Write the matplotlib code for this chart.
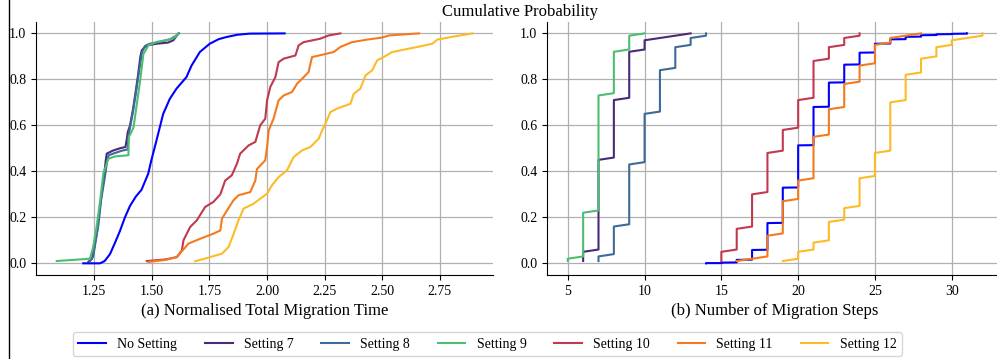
import numpy as np
import matplotlib
matplotlib.use("Agg")
import matplotlib.pyplot as plt
from matplotlib.lines import Line2D

plt.rcParams['font.family'] = ['Liberation Serif', 'DejaVu Serif']
plt.rcParams['mathtext.fontset'] = 'stix'

LABELS = ["No Setting", "Setting 7", "Setting 8", "Setting 9",
          "Setting 10", "Setting 11", "Setting 12"]
COLORS = ["#0000ff", "#4a2a78", "#3e6a98", "#4cbe72",
          "#c0394f", "#f47a1e", "#fcbb27"]

# (a) normalised total migration time: sorted value vs cumulative probability
time_x = {
    "No Setting": [1.202, 1.275, 1.295, 1.318, 1.340, 1.361, 1.383, 1.405, 1.430, 1.455, 1.484, 1.498,
                   1.520, 1.549, 1.578, 1.607, 1.650, 1.672, 1.708, 1.751, 1.790, 1.823, 1.870, 1.924, 2.076],
    "Setting 7": [1.224, 1.240, 1.250, 1.262, 1.275, 1.290, 1.300, 1.304, 1.330, 1.360, 1.385, 1.391, 1.395,
                  1.405, 1.418, 1.430, 1.440, 1.450, 1.456, 1.468, 1.480, 1.520, 1.570, 1.593, 1.615],
    "Setting 8": [1.232, 1.245, 1.255, 1.268, 1.280, 1.295, 1.305, 1.312, 1.340, 1.370, 1.394, 1.398, 1.405,
                  1.418, 1.432, 1.445, 1.458, 1.470, 1.490, 1.530, 1.580, 1.605, 1.618],
    "Setting 9": [1.087, 1.231, 1.245, 1.260, 1.275, 1.289, 1.311, 1.340, 1.398, 1.400, 1.420, 1.434, 1.449,
                  1.463, 1.485, 1.520, 1.560, 1.593, 1.615],
    "Setting 10": [1.478, 1.560, 1.608, 1.630, 1.637, 1.666, 1.695, 1.731, 1.767, 1.797, 1.818, 1.847, 1.869,
                   1.883, 1.920, 1.949, 1.970, 1.992, 2.000, 2.014, 2.036, 2.050, 2.072, 2.123, 2.137, 2.159,
                   2.231, 2.267, 2.318],
    "Setting 11": [1.485, 1.560, 1.608, 1.659, 1.710, 1.767, 1.797, 1.804, 1.826, 1.854, 1.876, 1.927, 1.949,
                   1.956, 1.992, 2.000, 2.007, 2.028, 2.050, 2.072, 2.108, 2.130, 2.159, 2.180, 2.195, 2.260,
                   2.289, 2.318, 2.369, 2.434, 2.500, 2.528, 2.659],
    "Setting 12": [1.688, 1.753, 1.804, 1.833, 1.855, 1.876, 1.898, 1.941, 1.970, 2.000, 2.021, 2.050, 2.086,
                   2.115, 2.152, 2.188, 2.224, 2.239, 2.253, 2.275, 2.304, 2.362, 2.376, 2.405, 2.427, 2.456,
                   2.478, 2.506, 2.543, 2.652, 2.717, 2.739, 2.797, 2.891],
}
time_y = {
    "No Setting": [0.0, 0.0, 0.01, 0.04, 0.09, 0.14, 0.20, 0.25, 0.29, 0.32, 0.39, 0.45,
                   0.535, 0.65, 0.716, 0.76, 0.81, 0.86, 0.919, 0.955, 0.975, 0.984, 0.994, 0.999, 1.0],
    "Setting 7": [0.006, 0.02, 0.07, 0.14, 0.25, 0.36, 0.45, 0.477, 0.49, 0.50, 0.506, 0.54, 0.57,
                  0.60, 0.67, 0.75, 0.82, 0.90, 0.926, 0.94, 0.948, 0.955, 0.96, 0.97, 1.0],
    "Setting 8": [0.01, 0.03, 0.09, 0.17, 0.28, 0.37, 0.44, 0.47, 0.48, 0.49, 0.495, 0.55, 0.59,
                  0.66, 0.75, 0.84, 0.92, 0.945, 0.955, 0.962, 0.975, 0.99, 1.0],
    "Setting 9": [0.01, 0.02, 0.07, 0.16, 0.27, 0.39, 0.455, 0.465, 0.47, 0.55, 0.59, 0.69, 0.795,
                  0.91, 0.948, 0.963, 0.97, 0.978, 1.0],
    "Setting 10": [0.01, 0.017, 0.027, 0.056, 0.10, 0.158, 0.187, 0.245, 0.267, 0.30, 0.36, 0.383, 0.433,
                   0.477, 0.513, 0.528, 0.60, 0.629, 0.709, 0.767, 0.81, 0.875, 0.89, 0.904, 0.948, 0.962,
                   0.977, 0.991, 1.0],
    "Setting 11": [0.006, 0.015, 0.027, 0.086, 0.107, 0.129, 0.143, 0.194, 0.23, 0.274, 0.296, 0.31, 0.36,
                   0.41, 0.448, 0.506, 0.578, 0.629, 0.709, 0.73, 0.745, 0.781, 0.81, 0.832, 0.897, 0.912,
                   0.919, 0.941, 0.962, 0.973, 0.982, 0.991, 1.0],
    "Setting 12": [0.009, 0.027, 0.042, 0.071, 0.129, 0.187, 0.238, 0.259, 0.281, 0.303, 0.339, 0.375, 0.404,
                   0.462, 0.491, 0.506, 0.542, 0.578, 0.607, 0.658, 0.673, 0.694, 0.737, 0.76, 0.817, 0.839,
                   0.883, 0.897, 0.919, 0.941, 0.955, 0.973, 0.984, 1.0],
}

# (b) number of migration steps: for each step count, CDF at first and last sample
step_vals = {
    "No Setting": list(range(14, 32)),
    "Setting 7": list(range(6, 14)),
    "Setting 8": list(range(7, 15)),
    "Setting 9": list(range(5, 11)),
    "Setting 10": list(range(15, 25)),
    "Setting 11": list(range(16, 29)),
    "Setting 12": list(range(19, 33)),
}
step_lo = {
    "No Setting": [0.0, 0.001, 0.004, 0.016, 0.059, 0.176, 0.33, 0.514, 0.681, 0.787, 0.865, 0.917,
                   0.956, 0.975, 0.986, 0.993, 0.997, 0.999],
    "Setting 7": [0.01, 0.06, 0.46, 0.72, 0.93, 0.98, 0.99, 1.0],
    "Setting 8": [0.01, 0.04, 0.17, 0.44, 0.66, 0.85, 0.95, 0.99],
    "Setting 9": [0.01, 0.03, 0.23, 0.74, 0.93, 1.0],
    "Setting 10": [0.01, 0.06, 0.16, 0.31, 0.49, 0.59, 0.72, 0.89, 0.95, 0.99],
    "Setting 11": [0.01, 0.02, 0.03, 0.13, 0.28, 0.37, 0.56, 0.68, 0.79, 0.87, 0.96, 0.99, 1.0],
    "Setting 12": [0.01, 0.02, 0.06, 0.10, 0.19, 0.25, 0.38, 0.49, 0.71, 0.83, 0.90, 0.95, 0.98, 0.99],
}
step_hi = {
    "No Setting": [0.001, 0.003, 0.015, 0.058, 0.175, 0.329, 0.513, 0.68, 0.786, 0.864, 0.916, 0.955,
                   0.974, 0.985, 0.992, 0.996, 0.998, 1.0],
    "Setting 7": [0.05, 0.45, 0.71, 0.92, 0.97, 0.98, 0.99, 1.0],
    "Setting 8": [0.03, 0.16, 0.43, 0.65, 0.84, 0.94, 0.98, 1.0],
    "Setting 9": [0.02, 0.22, 0.73, 0.92, 0.99, 1.0],
    "Setting 10": [0.05, 0.15, 0.30, 0.48, 0.58, 0.71, 0.88, 0.94, 0.98, 1.0],
    "Setting 11": [0.01, 0.02, 0.12, 0.27, 0.36, 0.55, 0.67, 0.78, 0.86, 0.95, 0.98, 0.99, 1.0],
    "Setting 12": [0.01, 0.05, 0.09, 0.18, 0.24, 0.37, 0.48, 0.70, 0.82, 0.89, 0.94, 0.97, 0.98, 1.0],
}


def main():
    fig = plt.figure(figsize=(9.97, 3.59), dpi=100)
    ax1 = fig.add_axes([0.0361, 0.2345, 0.4585, 0.7045])
    ax2 = fig.add_axes([0.5487, 0.2345, 0.4575, 0.7045])

    handles = []
    for name, col in zip(LABELS, COLORS):
        h, = ax1.plot(time_x[name], time_y[name], color=col, lw=1.5, label=name)
        handles.append(h)
        xs = np.repeat(step_vals[name], 2)
        ys = np.column_stack([step_lo[name], step_hi[name]]).ravel()
        ax2.plot(xs, ys, color=col, lw=1.5)

    for ax in (ax1, ax2):
        ax.set_ylim(-0.05, 1.05)
        ax.set_yticks([0.0, 0.2, 0.4, 0.6, 0.8, 1.0])
        ax.grid(True, color="#b0b0b0", lw=0.9)
        ax.set_axisbelow(True)
        ax.spines['top'].set_visible(False)
        ax.spines['right'].set_visible(False)
        ax.tick_params(labelsize=10, length=3.5, width=0.8)
    ax1.set_xticks([1.25, 1.50, 1.75, 2.00, 2.25, 2.50, 2.75])
    ax2.set_xticks([5, 10, 15, 20, 25, 30])

    ax1.set_xlabel("(a) Normalised Total Migration Time", fontsize=12)
    ax2.set_xlabel("(b) Number of Migration Steps", fontsize=12)
    fig.text(520 / 997, 1 - 12 / 359, "Cumulative Probability", fontsize=12,
             ha="center", va="center")

    fig.legend(handles=handles, labels=LABELS, ncol=7, fontsize=10,
               loc="upper left", borderaxespad=0,
               bbox_to_anchor=(72.7 / 997, 1 - 332 / 359))

    # stray vertical rule at the left edge of the original
    fig.add_artist(Line2D([9 / 997, 9 / 997], [0, 1], transform=fig.transFigure,
                          color="black", lw=1.0))

    fig.savefig("out.png", dpi=100)


if __name__ == "__main__":
    main()
